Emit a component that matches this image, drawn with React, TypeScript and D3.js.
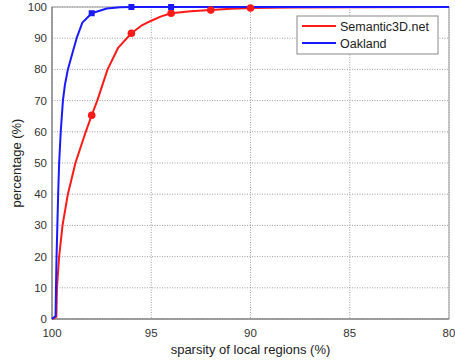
import React from "react";
import * as d3 from "d3";

const xTicks = [100, 95, 90, 85, 80];
const yTicks = [0, 10, 20, 30, 40, 50, 60, 70, 80, 90, 100];

const semanticX = [100, 99.78, 99.75, 99.64, 99.47, 99.2, 98.82, 98.3, 98, 97.72, 97.2, 96.66, 96, 95.5, 95, 94.5, 94, 93, 92, 91, 90, 88, 85, 80];
const semanticY = [0, 0.7, 10, 20, 30, 40, 50, 60, 65.3, 70, 80, 87, 91.6, 94, 95.6, 97, 98, 98.6, 99, 99.4, 99.7, 99.8, 99.9, 100];
const semanticMarkers = [98, 96, 94, 92, 90];

const oaklandX = [100, 99.82, 99.8, 99.77, 99.73, 99.69, 99.64, 99.56, 99.45, 99.35, 99.2, 98.98, 98.76, 98.47, 98, 97.24, 96.57, 96, 94, 80];
const oaklandY = [0, 1, 10, 20, 30, 40, 50, 60, 70, 75, 80, 85, 90, 95, 98, 99.5, 99.9, 100, 100, 100];
const oaklandMarkers = [98, 96, 94];

const seriesNames = ["Semantic3D.net", "Oakland"];
const seriesColors = ["#ff1a1a", "#1a1aff"];

export default function App() {
  const W = 455, H = 364;
  const L = 52, R = 449, T = 7, B = 319;
  const x = d3.scaleLinear().domain([100, 80]).range([L, R]);
  const y = d3.scaleLinear().domain([0, 100]).range([B, T]);
  const line = d3.line<[number, number]>().x(d => x(d[0])).y(d => y(d[1]));
  const red: [number, number][] = semanticX.map((v, i) => [v, semanticY[i]]);
  const blue: [number, number][] = oaklandX.map((v, i) => [v, oaklandY[i]]);
  const lookup = (xs: number[], ys: number[], v: number) => ys[xs.indexOf(v)];
  const font = "Liberation Sans, Arial, sans-serif";
  return (
    <svg width={W} height={H} style={{ position: "absolute", left: 0, top: 0 }}>
      <rect x={0} y={0} width={W} height={H} fill="#fff" />
      {yTicks.map(t => (
        <line key={"gy" + t} x1={L} x2={R} y1={y(t)} y2={y(t)} stroke="#888" strokeWidth={0.8} strokeDasharray="1,1.5" />
      ))}
      {xTicks.map(t => (
        <line key={"gx" + t} x1={x(t)} x2={x(t)} y1={T} y2={B} stroke="#888" strokeWidth={0.8} strokeDasharray="1,1.5" />
      ))}
      <rect x={L} y={T} width={R - L} height={B - T} fill="none" stroke="#999" strokeWidth={1} />
      <line x1={L} x2={R} y1={B} y2={B} stroke="#777" strokeWidth={1} />
      <line x1={L} x2={L} y1={T} y2={B} stroke="#777" strokeWidth={1} />
      {yTicks.map(t => (
        <text key={"ty" + t} x={L - 5} y={y(t) + 4} textAnchor="end" fontSize={11.5} fontFamily={font} fill="#333">{t}</text>
      ))}
      {xTicks.map(t => (
        <text key={"tx" + t} x={x(t)} y={337} textAnchor="middle" fontSize={11.5} fontFamily={font} fill="#333">{t}</text>
      ))}
      <text x={(L + R) / 2} y={354} textAnchor="middle" fontSize={13} fontFamily={font} fill="#222">sparsity of local regions (%)</text>
      <text transform={`translate(21,${(T + B) / 2}) rotate(-90)`} textAnchor="middle" fontSize={13} fontFamily={font} fill="#222">percentage (%)</text>
      <path d={line(red) || ""} fill="none" stroke={seriesColors[0]} strokeWidth={2} strokeLinejoin="round" />
      <path d={line(blue) || ""} fill="none" stroke={seriesColors[1]} strokeWidth={2} strokeLinejoin="round" />
      {semanticMarkers.map(m => (
        <circle key={"rm" + m} cx={x(m)} cy={y(lookup(semanticX, semanticY, m))} r={3.8} fill={seriesColors[0]} />
      ))}
      {oaklandMarkers.map(m => (
        <rect key={"bm" + m} x={x(m) - 3} y={y(lookup(oaklandX, oaklandY, m)) - 3} width={6} height={6} fill={seriesColors[1]} />
      ))}
      <rect x={297} y={16} width={141} height={38} fill="#fff" stroke="#888" strokeWidth={1} />
      {seriesNames.map((n, i) => (
        <g key={n}>
          <line x1={302} x2={336} y1={26 + i * 17} y2={26 + i * 17} stroke={seriesColors[i]} strokeWidth={2} />
          <text x={340} y={30.5 + i * 17} fontSize={12.5} fontFamily={font} fill="#222">{n}</text>
        </g>
      ))}
    </svg>
  );
}
